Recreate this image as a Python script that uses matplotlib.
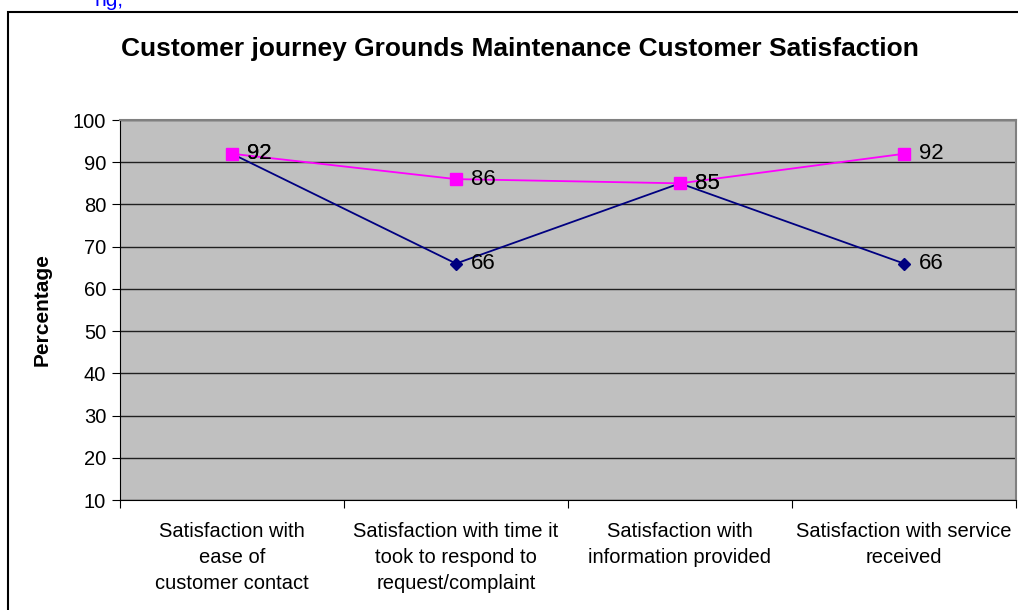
import matplotlib
matplotlib.use('Agg')
import matplotlib.pyplot as plt
from matplotlib.patches import Rectangle

# data
categories = ['Satisfaction with\nease of\ncustomer contact',
              'Satisfaction with time it\ntook to respond to\nrequest/complaint',
              'Satisfaction with\ninformation provided',
              'Satisfaction with service\nreceived']
series_navy = [92, 66, 85, 66]
series_pink = [92, 86, 85, 92]
yticks = list(range(10, 101, 10))

plt.rcParams['font.family'] = ['Liberation Sans', 'DejaVu Sans']

W, H = 1018, 610
fig = plt.figure(figsize=(W / 100, H / 100), dpi=100)
ax = fig.add_axes([120 / W, 1 - 500 / H, (1016 - 120) / W, (500 - 120) / H])

x = list(range(len(categories)))
ax.plot(x, series_navy, color='#000080', marker='D', markersize=6.5, lw=1.3, zorder=3)
ax.plot(x, series_pink, color='#FF00FF', marker='s', markersize=8, lw=1.3, zorder=4)

for xi, v in zip(x, series_navy):
    ax.text(xi + 0.065, v, str(v), fontsize=16, va='center', ha='left', zorder=5)
for xi, v in zip(x, series_pink):
    ax.text(xi + 0.065, v, str(v), fontsize=16, va='center', ha='left', zorder=5)

ax.set_xlim(-0.5, len(categories) - 0.5)
ax.set_ylim(10, 100)
ax.set_facecolor('#C0C0C0')
ax.set_yticks(yticks)
ax.yaxis.grid(True, color='#202020', lw=1)
ax.set_axisbelow(True)
ax.tick_params(axis='y', labelsize=14.5, length=6, direction='out', pad=4)

ax.set_xticks([i - 0.5 for i in range(len(categories) + 1)])
ax.set_xticklabels([])
ax.tick_params(axis='x', length=6, direction='out')
for xi, c in zip(x, categories):
    ax.text(xi, -0.058, c, transform=ax.get_xaxis_transform(), ha='center', va='top',
            fontsize=14.5, linespacing=1.45)

for s in ['top', 'right']:
    ax.spines[s].set_color('#808080')
    ax.spines[s].set_linewidth(1.5)
for s in ['left', 'bottom']:
    ax.spines[s].set_color('black')

ax.set_ylabel('Percentage', fontsize=15, fontweight='bold', labelpad=15)
fig.text(520 / W, 1 - 49 / H, 'Customer journey Grounds Maintenance Customer Satisfaction',
         ha='center', va='center', fontsize=19, fontweight='bold')

fig.patches.append(Rectangle((8 / W, -0.1), 1.2, 1 - 12 / H + 0.1, transform=fig.transFigure,
                             fill=False, ec='black', lw=1.5))
fig.text(95 / W, 1 - 1 / H, 'ng,', color='blue', fontsize=15, ha='left', va='center')

fig.savefig('out.png', dpi=100)
